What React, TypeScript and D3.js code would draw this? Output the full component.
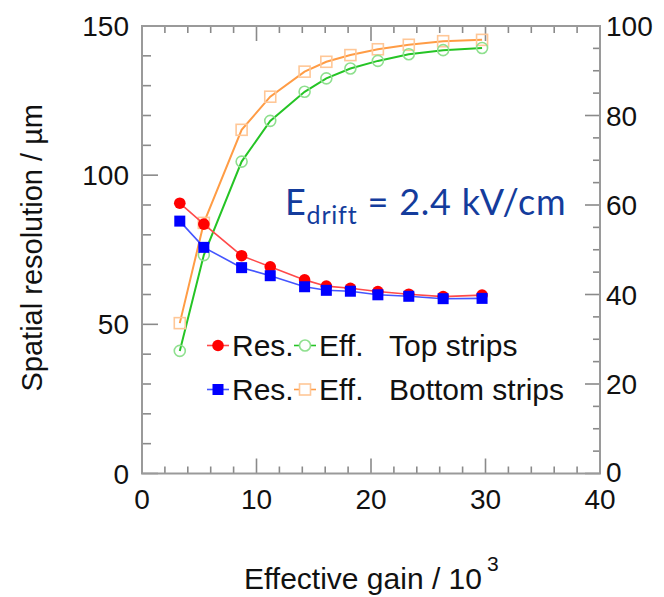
import React from "react";
import * as d3 from "d3";

// Effective gain (×10³)
const gain = [3.3, 5.4, 8.7, 11.2, 14.2, 16.1, 18.2, 20.6, 23.3, 26.3, 29.7];
// Spatial resolution (µm), left axis
const resTop = [90.6, 83.6, 73.0, 69.3, 64.9, 62.8, 62.1, 61.0, 60.1, 59.3, 59.8];
const resBottom = [84.6, 75.8, 69.0, 66.3, 62.6, 61.4, 61.1, 59.9, 59.4, 58.6, 58.7];
// Efficiency (%), right axis
const effTop = [27.4, 48.8, 69.7, 78.8, 85.3, 88.3, 90.5, 92.2, 93.7, 94.6, 95.1];
const effBottom = [33.6, 56.0, 76.8, 84.2, 89.8, 92.0, 93.5, 94.8, 95.8, 96.6, 96.9];

const xTicks = [0, 10, 20, 30, 40];
const yLeftTicks = [0, 50, 100, 150];
const yRightTicks = [0, 20, 40, 60, 80, 100];

const W = 664;
const H = 597;
const L = 142, R = 600, T = 26, B = 473.5;

const FONT = "'Liberation Sans', Arial, Helvetica, sans-serif";

export default function App() {
  const x = d3.scaleLinear().domain([0, 40]).range([L, R]);
  const yL = d3.scaleLinear().domain([0, 150]).range([B, T]);
  const yR = d3.scaleLinear().domain([0, 100]).range([B, T]);

  const lineL = (vals: number[]) =>
    d3.line<number>().x((_, i) => x(gain[i])).y((v) => yL(v))(vals) || "";
  const lineR = (vals: number[]) =>
    d3.line<number>().x((_, i) => x(gain[i])).y((v) => yR(v))(vals) || "";

  const frame = "#9a9a9a";
  const tickCol = "#8a8a8a";

  const xMinor = d3.range(0, 41, 2);
  const yLMinor = d3.range(0, 151, 10);
  const yRMinor = d3.range(0, 101, 5);

  const green = "#25c425";
  const greenMk = "#8fe08f";
  const orange = "#ff9c45";
  const orangeMk = "#ffc797";
  const red = "#ff0000";
  const redLn = "#ff4a4a";
  const blue = "#0000ff";
  const blueLn = "#4455ff";

  const sq = 11;

  return (
    <svg
      width={W}
      height={H}
      style={{ position: "absolute", left: 0, top: 0, background: "#fff" }}
      fontFamily={FONT}
    >
      {/* ticks */}
      <g stroke={tickCol} strokeWidth={1.6}>
        {xMinor.map((v) => {
          const len = v % 10 === 0 ? 15 : 7;
          return (
            <g key={"xt" + v}>
              <line x1={x(v)} x2={x(v)} y1={B} y2={B - len} />
              <line x1={x(v)} x2={x(v)} y1={T} y2={T + len} />
            </g>
          );
        })}
        {yLMinor.map((v) => {
          const len = v % 50 === 0 ? 16 : 9;
          return <line key={"yl" + v} x1={L} x2={L + len} y1={yL(v)} y2={yL(v)} />;
        })}
        {yRMinor.map((v) => {
          const len = v % 20 === 0 ? 15 : 7;
          return <line key={"yr" + v} x1={R} x2={R - len} y1={yR(v)} y2={yR(v)} />;
        })}
      </g>
      <rect x={L} y={T} width={R - L} height={B - T} fill="none" stroke={frame} strokeWidth={2} />

      {/* tick labels */}
      <g fontSize={28} fill="#111">
        {xTicks.map((v) => (
          <text key={"xl" + v} x={x(v)} y={509} textAnchor="middle">
            {v}
          </text>
        ))}
        {yLeftTicks.map((v) => (
          <text key={"yll" + v} x={129} y={yL(v) + 10} textAnchor="end">
            {v}
          </text>
        ))}
        {yRightTicks.map((v) => (
          <text key={"yrl" + v} x={606} y={yR(v) + (v === 0 ? 8 : 10)} textAnchor="start">
            {v}
          </text>
        ))}
      </g>

      {/* axis titles */}
      <text x={244} y={589} fontSize={30} fill="#111">
        Effective gain / 10
        <tspan dy={-18} dx={5} fontSize={21}>3</tspan>
      </text>
      <text
        transform={`translate(42,${(T + B) / 2 - 2}) rotate(-90)`}
        textAnchor="middle"
        fontSize={29}
        fill="#111"
      >
        Spatial resolution / µm
      </text>

      {/* efficiency curves (right axis) */}
      <path d={lineR(effBottom)} fill="none" stroke={orange} strokeWidth={2} />
      <path d={lineR(effTop)} fill="none" stroke={green} strokeWidth={2} />
      {effBottom.map((v, i) => (
        <rect
          key={"eb" + i}
          x={x(gain[i]) - sq / 2}
          y={yR(v) - sq / 2}
          width={sq}
          height={sq}
          fill="none"
          stroke={orangeMk}
          strokeWidth={1.6}
        />
      ))}
      {effTop.map((v, i) => (
        <circle
          key={"et" + i}
          cx={x(gain[i])}
          cy={yR(v)}
          r={5.5}
          fill="none"
          stroke={greenMk}
          strokeWidth={1.6}
        />
      ))}

      {/* resolution curves (left axis) */}
      <path d={lineL(resTop)} fill="none" stroke={redLn} strokeWidth={1.6} />
      {resTop.map((v, i) => (
        <circle key={"rt" + i} cx={x(gain[i])} cy={yL(v)} r={5.8} fill={red} />
      ))}
      <path d={lineL(resBottom)} fill="none" stroke={blueLn} strokeWidth={1.6} />
      {resBottom.map((v, i) => (
        <rect
          key={"rb" + i}
          x={x(gain[i]) - sq / 2}
          y={yL(v) - sq / 2}
          width={sq}
          height={sq}
          fill={blue}
        />
      ))}

      {/* field annotation */}
      <text
        x={285}
        y={215}
        fontFamily="Lato, 'Open Sans', sans-serif"
        fontSize={36}
        letterSpacing={0.8}
        fill="#143c9c"
      >
        E
        <tspan fontSize={25} dy={9}>drift</tspan>
        <tspan dy={-9}> = 2.4 kV/cm</tspan>
      </text>

      {/* legend */}
      <g fontSize={30} fill="#111">
        <line x1={207} x2={229} y1={345.5} y2={345.5} stroke={redLn} strokeWidth={1.6} />
        <circle cx={218} cy={345.5} r={5.8} fill={red} />
        <text x={232} y={356}>Res.</text>
        <line x1={294} x2={316} y1={345.5} y2={345.5} stroke={green} strokeWidth={1.6} />
        <circle cx={305} cy={345.5} r={5.5} fill="#fff" stroke={greenMk} strokeWidth={1.6} />
        <text x={319} y={356}>Eff.</text>
        <text x={389} y={356}>Top strips</text>

        <line x1={207} x2={229} y1={389.5} y2={389.5} stroke={blueLn} strokeWidth={1.6} />
        <rect x={218 - sq / 2} y={389.5 - sq / 2} width={sq} height={sq} fill={blue} />
        <text x={232} y={400}>Res.</text>
        <line x1={294} x2={316} y1={389.5} y2={389.5} stroke={orange} strokeWidth={1.6} />
        <rect
          x={305 - sq / 2}
          y={389.5 - sq / 2}
          width={sq}
          height={sq}
          fill="#fff"
          stroke={orangeMk}
          strokeWidth={1.6}
        />
        <text x={319} y={400}>Eff.</text>
        <text x={389} y={400}>Bottom strips</text>
      </g>
    </svg>
  );
}
